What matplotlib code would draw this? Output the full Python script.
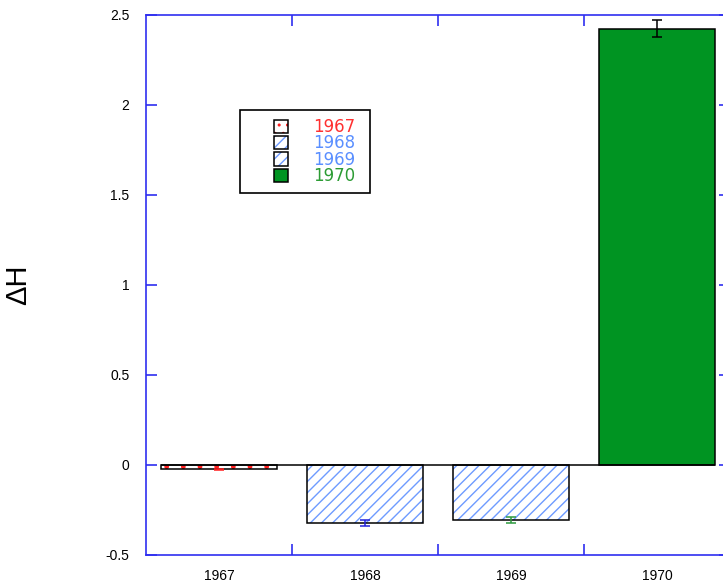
import matplotlib
matplotlib.use("Agg")
import matplotlib.pyplot as plt
import numpy as np
from matplotlib.patches import Rectangle, Patch
from matplotlib.legend_handler import HandlerTuple

plt.rcParams["font.family"] = ["Liberation Sans", "DejaVu Sans"]
plt.rcParams["hatch.linewidth"] = 1.0

years = ["1967", "1968", "1969", "1970"]
delta_h = [-0.024, -0.322, -0.307, 2.425]
delta_err = [0.004, 0.017, 0.017, 0.047]

fill_colors = ["none", "none", "none", "#009422"]
hatches = [".", "///", "///", None]
legend_hatches = ["..", "///", "///", None]
hatch_colors = ["#ff2020", "#6e9bff", "#6e9bff", None]
err_colors = ["#ff2020", "#2222dd", "#2e9a3e", "black"]
label_colors = ["#ff3030", "#5a8fff", "#5a8fff", "#2c9c34"]

AXIS_BLUE = "#2f2ff0"

fig = plt.figure(figsize=(7.23, 5.84), dpi=100)
ax = fig.add_axes([146 / 723, 29 / 584, 584 / 723, 540 / 584])

x = np.arange(len(years))
width = 0.8

for i in range(len(years)):
    if hatches[i]:
        ax.bar(x[i], delta_h[i], width, color="none", edgecolor=hatch_colors[i],
               hatch=hatches[i], linewidth=0, zorder=2)
    ax.bar(x[i], delta_h[i], width, color=fill_colors[i], edgecolor="black",
           linewidth=1.1, zorder=3)
    ax.errorbar(x[i], delta_h[i], yerr=delta_err[i], fmt="none",
                ecolor=err_colors[i], elinewidth=1.1, capsize=3.5,
                capthick=1.1, zorder=4)

ax.hlines(0, x[0] - width / 2, x[-1] + width / 2, color="black",
          linewidth=1.1, zorder=3)

ax.set_xlim(-0.5, len(years) - 0.5)
ax.set_ylim(-0.5, 2.5)
ax.set_yticks([-0.5, 0, 0.5, 1, 1.5, 2, 2.5])
ax.set_yticklabels(["-0.5", "0", "0.5", "1", "1.5", "2", "2.5"])
ax.set_xticks(x)
ax.set_xticklabels(years)
ax.set_xticks(x[:-1] + 0.5, minor=True)

for s in ax.spines.values():
    s.set_color(AXIS_BLUE)
    s.set_linewidth(1.2)

ax.tick_params(axis="y", direction="in", length=8, width=1.2, color=AXIS_BLUE,
               labelsize=10, pad=12, right=True)
ax.tick_params(axis="x", which="major", length=0, labelsize=10, pad=10)
ax.tick_params(axis="x", which="minor", direction="in", length=8, width=1.2,
               color=AXIS_BLUE, top=True)

ax.set_ylabel("ΔH", fontsize=21, va="center")
ax.yaxis.set_label_coords((18 - 146) / 584, 0.5)

# legend: hatch layer under a black outline, like the bars
handles = []
for i in range(len(years)):
    outline = Patch(facecolor="#009422" if i == 3 else "none",
                    edgecolor="black", linewidth=1.1)
    if legend_hatches[i]:
        inner = Patch(facecolor="white", edgecolor=hatch_colors[i],
                      hatch=legend_hatches[i], linewidth=0)
        handles.append((inner, outline))
    else:
        handles.append(outline)

leg = ax.legend(handles, years, loc="upper left",
                bbox_to_anchor=((274 - 146) / 584, (555 - 118) / 540),
                borderaxespad=0, frameon=False,
                prop={"family": "DejaVu Sans", "size": 12},
                handlelength=0.85, handleheight=0.85, handletextpad=1.5,
                labelspacing=-0.1, borderpad=0, labelcolor=label_colors,
                handler_map={tuple: HandlerTuple(ndivide=1, pad=0)})

ax.add_patch(Rectangle(((240 - 146) / 584, (555 - 193) / 540),
                       130 / 584, 83 / 540, transform=ax.transAxes,
                       fill=False, edgecolor="black", linewidth=1.2,
                       clip_on=False, zorder=5))

fig.savefig("out.png", dpi=100)
